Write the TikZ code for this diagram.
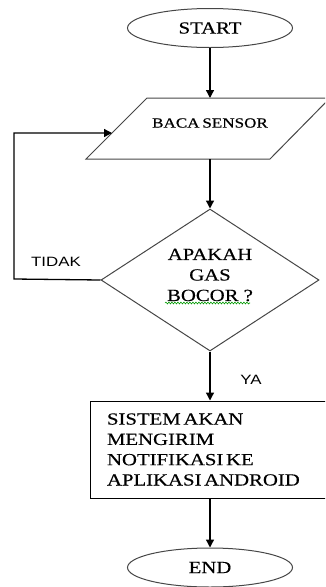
\documentclass[tikz,border=0pt]{standalone}
\usepackage{fontspec}
\setmainfont{Liberation Serif}[FakeStretch=1.22,FakeBold=0.4]
\newfontfamily\labelfont{Liberation Sans}[FakeStretch=1.25]
\usetikzlibrary{shapes.geometric,arrows.meta,decorations.pathmorphing}
\definecolor{edgegray}{RGB}{70,70,70}
\newcommand\tightspA{\spaceskip 0.16em\relax}
\newcommand\tightspB{\spaceskip 0.2em\relax}
\tikzset{
  x=1pt,y=-1pt,
  term/.style={ellipse,draw=edgegray,line width=1pt,minimum width=165pt,minimum height=39pt,inner sep=0pt,font=\fontsize{17}{20}\selectfont},
  decide/.style={diamond,draw=edgegray,line width=1pt,minimum width=218pt,minimum height=142pt,inner sep=0pt},
  dectextstyle/.style={inner sep=0pt,align=center,font=\fontsize{17}{20.5}\selectfont},
  procbox/.style={rectangle,draw=black,line width=1pt,minimum width=240pt,minimum height=97pt,inner xsep=17pt,inner ysep=0pt,text width=206pt,align=left,font=\fontsize{17}{20.3}\selectfont},
  flow/.style={draw=black,line width=1.3pt,-{Triangle[length=8pt,width=8pt]}},
  edgelabel/.style={font=\labelfont\fontsize{13.5}{16}\selectfont,inner sep=0pt}
}
\begin{document}
\begin{tikzpicture}
\useasboundingbox (0,0) rectangle (325,587);
\clip (0,0) rectangle (325,587);
% start
\node[term] (start) at (210,28) {START};
% input parallelogram
\coordinate (ptl) at (147,98);
\coordinate (ptr) at (330,98);
\coordinate (pbr) at (270,159);
\coordinate (pbl) at (86,159);
\draw[edgegray,line width=1pt] (ptl) -- (ptr) -- (pbr) -- (pbl) -- cycle;
\node[inner sep=0pt,font=\fontsize{14}{16}\selectfont] (read) at (210,123) {\tightspB BACA SENSOR};
\coordinate (readtop) at (210,98);
\coordinate (readbot) at (210,159);
\coordinate (readin) at (112,133);
% decision
\node[decide] (dec) at (210,280) {};
\node[dectextstyle] (dectext) at (210,275) {APAKAH\\GAS\\BOCOR ?};
\draw[green!60!black,line width=0.6pt,decorate,decoration={snake,amplitude=0.9pt,segment length=3pt}] (165,303) -- (250,303);
% process
\node[procbox] (proc) at (210,449.5) {\tightspA SISTEM AKAN\\MENGIRIM\\NOTIFIKASI KE\\APLIKASI ANDROID};
% end
\node[term] (end) at (210,567.5) {END};
% connectors
\draw[flow] (start) -- (readtop);
\draw[flow] (readbot) -- (dec.north);
\coordinate (loopbl) at (14,279);
\draw[flow] (dec.west) -- (loopbl) |- (readin);
\draw[flow] (dec.south) -- (proc.north);
\draw[flow] (proc.south) -- (end.north);
% labels
\node[edgelabel] (tidak) at (56,262) {TIDAK};
\node[edgelabel] (ya) at (251,380) {YA};
\end{tikzpicture}
\end{document}
